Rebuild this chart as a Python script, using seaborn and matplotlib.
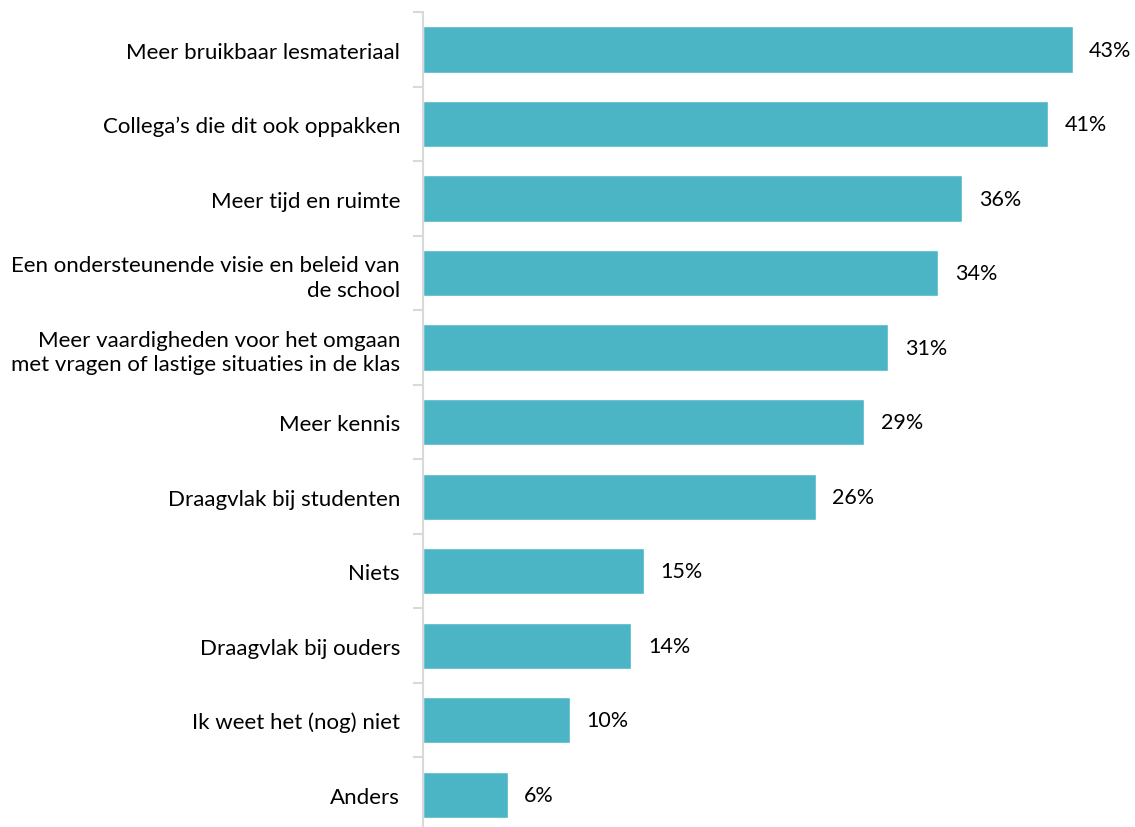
import matplotlib
matplotlib.use("Agg")
import matplotlib.pyplot as plt
import seaborn as sns
import pandas as pd
import numpy as np

categories = [
    "Meer bruikbaar lesmateriaal",
    "Collega\u2019s die dit ook oppakken",
    "Meer tijd en ruimte",
    "Een ondersteunende visie en beleid van\nde school",
    "Meer vaardigheden voor het omgaan\nmet vragen of lastige situaties in de klas",
    "Meer kennis",
    "Draagvlak bij studenten",
    "Niets",
    "Draagvlak bij ouders",
    "Ik weet het (nog) niet",
    "Anders",
]
values = [43.0, 41.4, 35.7, 34.1, 30.8, 29.2, 26.0, 14.6, 13.8, 9.7, 5.6]

sns.set_theme(style="white")
plt.rcParams['font.family'] = ['Lato', 'DejaVu Sans']

df = pd.DataFrame({"cat": categories, "val": values})

fig = plt.figure(figsize=(11.35, 8.28), dpi=100)
ax = fig.add_axes([0.3727, -0.006, 0.6255, 0.99])

sns.barplot(data=df, x="val", y="cat", orient="h", color="#4BB5C5",
            width=0.62, saturation=1, ax=ax)

n = len(categories)
ax.set_xlim(0, 47)
ax.set_ylim(n - 0.5, -0.5)
ax.set_xlabel("")
ax.set_ylabel("")
ax.set_xticks([])

ax.set_yticks(range(n))
ax.set_yticklabels(categories, fontsize=16, ha="right", multialignment="right",
                   color="black", linespacing=1.3)
ax.tick_params(axis="y", which="major", length=0, pad=16.5)
ax.set_yticks(np.arange(-0.5, n, 1), minor=True)
ax.tick_params(axis="y", which="minor", left=True, length=7, width=1.5, color="#d9d9d9")

for s in ["top", "right", "bottom"]:
    ax.spines[s].set_visible(False)
ax.spines["left"].set_color("#d9d9d9")
ax.spines["left"].set_linewidth(1.5)

for i, v in enumerate(values):
    ax.text(v + 1.1, i, f"{v:.0f}%", va="center", ha="left", fontsize=15.5, color="black")

fig.savefig("out.png", dpi=100)
